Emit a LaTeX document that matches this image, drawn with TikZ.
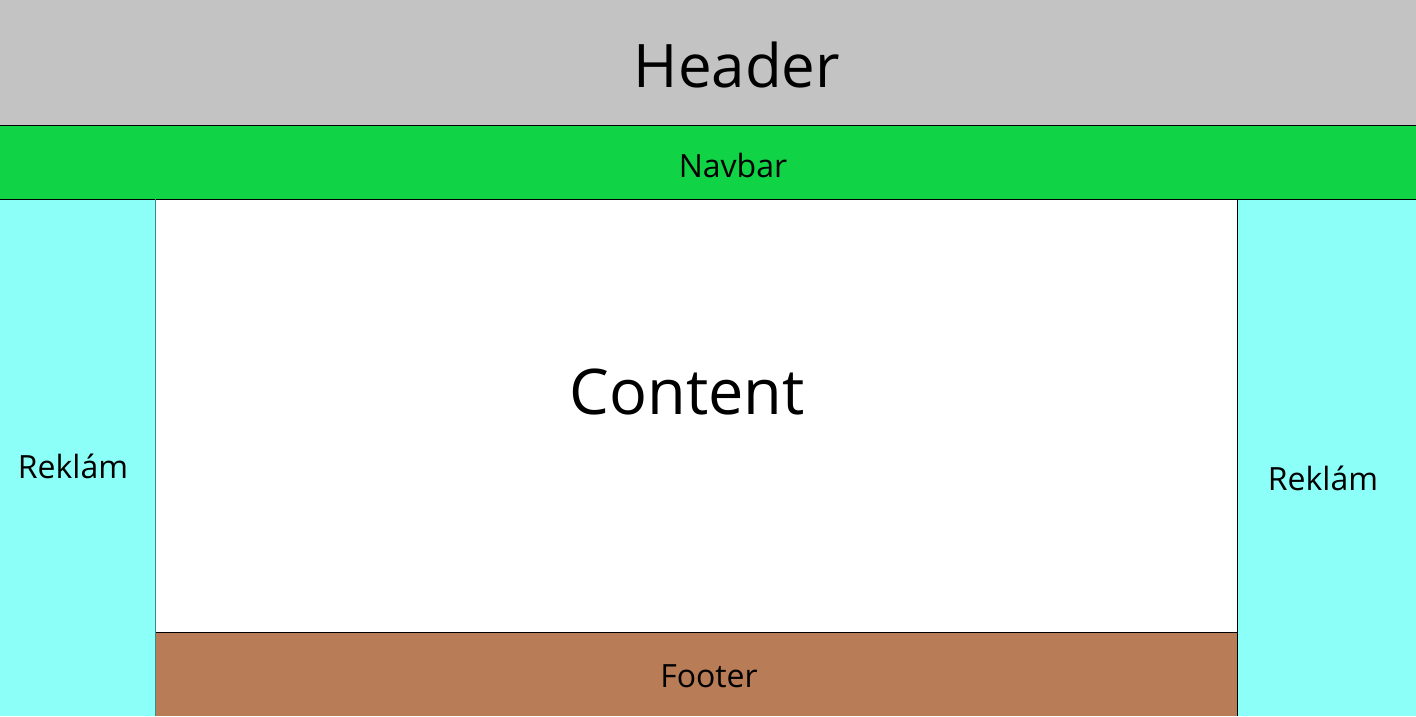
\documentclass[tikz,border=0pt]{standalone}
\usepackage{fontspec}
\setmainfont{Open Sans}
\definecolor{hdrgray}{HTML}{C3C3C3}
\definecolor{navgreen}{HTML}{10D346}
\definecolor{adcyan}{HTML}{8CFFF8}
\definecolor{footbrown}{HTML}{B87C57}
\definecolor{adedge}{HTML}{3A8C88}
\begin{document}
\begin{tikzpicture}[x=1pt,y=-1pt,
  lbl/.style={inner sep=0pt, text=black},
  small/.style={lbl, font=\fontsize{32}{36}\selectfont}]
\useasboundingbox (0,0) rectangle (1416,716);
% page regions
\fill[hdrgray] (0,0) rectangle (1416,125);
\fill[navgreen] (0,125) rectangle (1416,199);
\fill[adcyan] (0,199) rectangle (155,716);
\fill[white] (155,199) rectangle (1237,632);
\fill[footbrown] (155,632) rectangle (1237,716);
\fill[adcyan] (1237,199) rectangle (1416,716);
% borders
\draw[line width=1pt] (0,125) -- (1416,125);
\draw[line width=1pt] (0,199) -- (1416,199);
\draw[line width=1pt] (155,632) -- (1237,632);
\draw[line width=1pt] (1237,199) -- (1237,716);
\draw[line width=1pt, adedge] (155,199) -- (155,716);
% labels
\node[lbl, font=\fontsize{60}{68}\selectfont] (header) at (737,65) {Header};
\node[small] (navbar) at (733,165) {Navbar};
\node[lbl, font=\fontsize{63}{70}\selectfont] (content) at (687,392) {Content};
\node[small] (adleft) at (73,466) {Reklám};
\node[small] (adright) at (1323,478) {Reklám};
\node[small] (footer) at (709,676) {Footer};
\end{tikzpicture}
\end{document}
